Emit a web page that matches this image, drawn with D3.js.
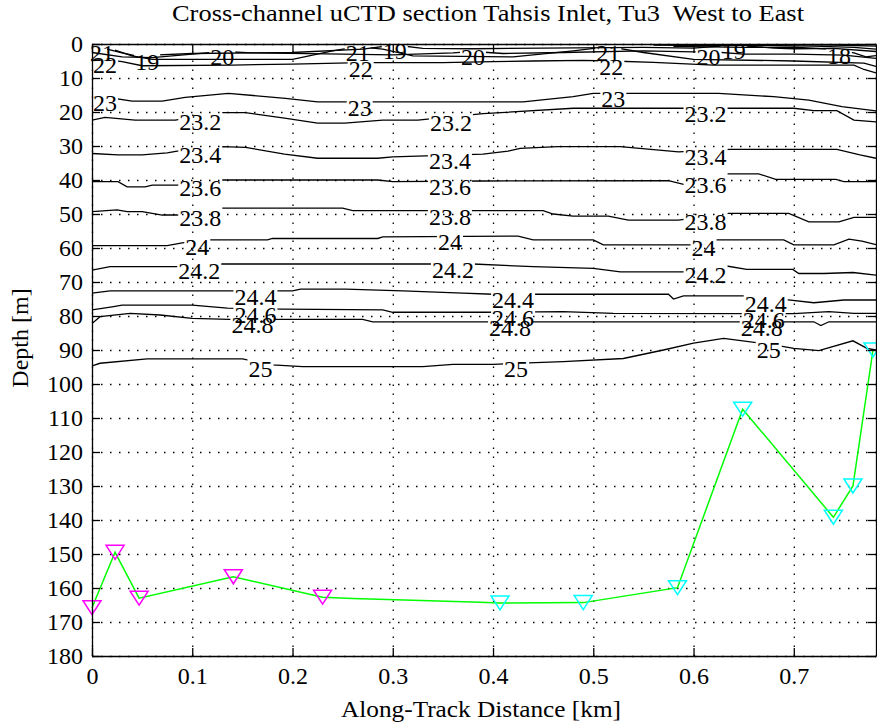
<!DOCTYPE html>
<html>
<head>
<meta charset="utf-8">
<script src="https://cdn.jsdelivr.net/npm/d3@7"></script>
<style>
  body { margin: 0; background: #fff; }
  svg text { font-family: "Liberation Serif", "Times New Roman", serif; fill: #000; }
</style>
</head>
<body>
<div id="chart"></div>
<script>
var xTicks = [0, 0.1, 0.2, 0.3, 0.4, 0.5, 0.6, 0.7];
var yTicks = [0, 10, 20, 30, 40, 50, 60, 70, 80, 90, 100, 110, 120, 130, 140, 150, 160, 170, 180];

// isopycnals: [along-track km, depth m]
var iso16 = [[0.66, 0.15], [0.70, 0.2], [0.74, 0.3], [0.782, 0.6]];
var iso17 = [[0.56, 0.3], [0.62, 0.5], [0.66, 0.4], [0.72, 0.6], [0.76, 1.0], [0.782, 1.5]];
var iso18 = [[0.58, 0.7], [0.65, 1.0], [0.70, 0.9], [0.74, 1.6], [0.76, 2.6], [0.772, 3.8], [0.782, 3.4]];
var iso19 = [[0.015, 1.5], [0.03, 2.6], [0.045, 3.6], [0.06, 3.3], [0.1, 2.8], [0.2, 2.5], [0.27, 1.5], [0.302, 0.3], [0.33, 1.3], [0.38, 1.4], [0.45, 1.2], [0.55, 1.0], [0.6, 1.2], [0.64, 0.3], [0.68, 1.2], [0.7, 1.4], [0.74, 1.3], [0.782, 2.2]];
var iso20 = [[0, 2.5], [0.03, 3.8], [0.06, 4.0], [0.1, 3.0], [0.13, 2.2], [0.16, 2.6], [0.25, 3.0], [0.3, 3.2], [0.36, 2.6], [0.38, 2.2], [0.41, 2.8], [0.47, 2.5], [0.55, 2.0], [0.6, 2.3], [0.615, 2.2], [0.65, 3.0], [0.7, 3.0], [0.75, 3.3], [0.782, 4.2]];
var iso21 = [[0, 0.5], [0.02, 1.5], [0.04, 3.5], [0.06, 4.5], [0.2, 4.5], [0.24, 2.0], [0.265, 0.8], [0.29, 1.5], [0.32, 3.5], [0.42, 3.8], [0.48, 2.0], [0.515, 0.8], [0.55, 2.5], [0.6, 4.5], [0.7, 5.0], [0.77, 5.6], [0.782, 6.6]];
var iso22 = [[0, 5.0], [0.013, 4.5], [0.03, 5.2], [0.05, 6.4], [0.14, 6.2], [0.2, 5.9], [0.268, 5.5], [0.35, 5.5], [0.4, 5.2], [0.44, 5.0], [0.49, 4.8], [0.518, 5.0], [0.56, 5.4], [0.62, 6.2], [0.76, 6.2], [0.77, 7.5], [0.782, 8.5]];
var iso23 = [[0, 15], [0.04, 16.8], [0.07, 16.8], [0.093, 15.7], [0.136, 14.5], [0.193, 16], [0.225, 17], [0.43, 17], [0.48, 15.5], [0.5, 14.5], [0.625, 14.5], [0.68, 15.5], [0.715, 16.5], [0.748, 18.4], [0.782, 19.7]];
var iso232 = [[0, 22.4], [0.013, 21.6], [0.043, 22.4], [0.083, 22.4], [0.13, 20.2], [0.153, 20.2], [0.192, 21.8], [0.225, 23.3], [0.252, 23.3], [0.29, 22.4], [0.325, 22.4], [0.39, 20.5], [0.48, 18.9], [0.7, 18.9], [0.72, 19.6], [0.743, 19.6], [0.76, 22.4], [0.782, 22.9]];
var iso234 = [[0, 32.2], [0.026, 32.6], [0.05, 32.6], [0.075, 32], [0.085, 31.5], [0.13, 30.2], [0.153, 30.4], [0.192, 32.4], [0.225, 33.6], [0.285, 33.6], [0.3, 33.2], [0.39, 32.4], [0.415, 31.5], [0.427, 30.7], [0.464, 30.2], [0.527, 30.2], [0.585, 31.7], [0.6, 31.5], [0.636, 31], [0.743, 31], [0.766, 32.6], [0.782, 33.6]];
var iso236 = [[0, 40.5], [0.026, 40.5], [0.035, 42], [0.053, 42], [0.06, 41.5], [0.085, 41.5], [0.13, 40], [0.285, 40], [0.3, 40.5], [0.39, 40.3], [0.575, 40.2], [0.59, 41.3], [0.63, 38.2], [0.665, 38.2], [0.682, 39.8], [0.742, 39.8], [0.75, 40.5], [0.782, 40.5]];
var iso238 = [[0, 49.3], [0.025, 48.8], [0.035, 49.3], [0.05, 49.3], [0.07, 50.3], [0.085, 50.3], [0.13, 48.3], [0.25, 48.3], [0.26, 49], [0.45, 49], [0.46, 50], [0.48, 50.6], [0.515, 50.6], [0.535, 51.8], [0.585, 51.8], [0.635, 49.8], [0.695, 49.8], [0.715, 52.3], [0.745, 52.3], [0.76, 51], [0.782, 51]];
var iso24 = [[0, 59.3], [0.075, 59.3], [0.09, 58.5], [0.116, 57.6], [0.175, 57.6], [0.18, 57.2], [0.285, 57.2], [0.29, 56.7], [0.425, 56.5], [0.44, 57.6], [0.5, 57.6], [0.51, 59.1], [0.6, 59.1], [0.62, 57.6], [0.69, 57.6], [0.7, 59.1], [0.74, 59.1], [0.755, 57.4], [0.768, 58], [0.782, 59]];
var iso242 = [[0, 66.5], [0.018, 65.5], [0.085, 65.5], [0.13, 64.7], [0.38, 64.7], [0.44, 65.5], [0.5, 66], [0.527, 67], [0.59, 67], [0.633, 65.3], [0.653, 66.3], [0.699, 66.3], [0.705, 67.5], [0.73, 67.5], [0.759, 67.2], [0.782, 68]];
var iso244 = [[0, 73.3], [0.018, 72.6], [0.2, 72.6], [0.208, 72.1], [0.253, 72.1], [0.31, 72.6], [0.37, 73.3], [0.4, 73.6], [0.575, 73.6], [0.58, 75], [0.59, 74.1], [0.65, 74.1], [0.69, 75.1], [0.72, 76.1], [0.75, 75.3], [0.782, 75.3]];
var iso246 = [[0, 78.2], [0.02, 77.3], [0.03, 76.8], [0.1, 76.8], [0.135, 77.7], [0.19, 78], [0.29, 78.2], [0.3, 78.9], [0.39, 78.9], [0.47, 78.7], [0.52, 79.2], [0.7, 79.3], [0.735, 78.7], [0.76, 79.2], [0.782, 79.2]];
var iso248 = [[0, 82.2], [0.008, 80.2], [0.038, 79.2], [0.068, 79.7], [0.1, 80.7], [0.137, 81], [0.27, 81], [0.28, 81.7], [0.72, 81.7], [0.727, 82.8], [0.735, 81.7], [0.782, 81.7]];
var iso25 = [[0, 94.7], [0.008, 93.9], [0.055, 92.6], [0.15, 92.6], [0.18, 94.4], [0.21, 94.9], [0.33, 94.9], [0.36, 94.2], [0.4, 94.2], [0.47, 93.4], [0.53, 92.5], [0.57, 90], [0.6, 88], [0.63, 86.6], [0.68, 88.5], [0.70, 89.5], [0.725, 90.2], [0.759, 87.3], [0.773, 89.5], [0.782, 90]];

// contour label spots (km)
var lab18 = [0.745];
var lab19 = [0.055, 0.302, 0.64];
var lab20 = [0.13, 0.38, 0.615];
var lab21 = [0.01, 0.265, 0.515];
var lab22 = [0.013, 0.268, 0.518];
var lab23 = [0.013, 0.267, 0.52];
var lab232 = [0.108, 0.358, 0.612];
var lab234 = [0.108, 0.357, 0.612];
var lab236 = [0.108, 0.357, 0.612];
var lab238 = [0.108, 0.357, 0.612];
var lab24 = [0.105, 0.357, 0.61];
var lab242 = [0.107, 0.36, 0.612];
var lab244 = [0.163, 0.42, 0.672];
var lab246 = [0.163, 0.42, 0.67];
var lab248 = [0.16, 0.417, 0.668];
var lab25 = [0.168, 0.423, 0.675];

// sea floor and cast positions
var bottomKm    = [0, 0.023, 0.047, 0.141, 0.23, 0.26, 0.32, 0.387, 0.407, 0.49, 0.584, 0.649, 0.7395, 0.759, 0.779];
var bottomDepth = [165.8, 149.5, 163, 156.7, 162.7, 163.1, 163.6, 164.2, 164.4, 164.3, 159.9, 107.4, 139.2, 130, 90];
var castKmA    = [0, 0.023, 0.047, 0.141, 0.23];
var castDepthA = [165.8, 149.5, 163, 156.7, 162.7];
var castKmB    = [0.407, 0.49, 0.584, 0.649, 0.7395, 0.759, 0.779];
var castDepthB = [164.4, 164.3, 159.9, 107.4, 139.2, 130, 90];

var isopycnals = [
  {level: "16", pts: iso16, at: []},
  {level: "17", pts: iso17, at: []},
  {level: "18", pts: iso18, at: lab18},
  {level: "19", pts: iso19, at: lab19},
  {level: "20", pts: iso20, at: lab20},
  {level: "21", pts: iso21, at: lab21},
  {level: "22", pts: iso22, at: lab22},
  {level: "23", pts: iso23, at: lab23},
  {level: "23.2", pts: iso232, at: lab232},
  {level: "23.4", pts: iso234, at: lab234},
  {level: "23.6", pts: iso236, at: lab236},
  {level: "23.8", pts: iso238, at: lab238},
  {level: "24", pts: iso24, at: lab24},
  {level: "24.2", pts: iso242, at: lab242},
  {level: "24.4", pts: iso244, at: lab244},
  {level: "24.6", pts: iso246, at: lab246},
  {level: "24.8", pts: iso248, at: lab248},
  {level: "25", pts: iso25, at: lab25}
];

var width = 877, height = 728;
var pLeft = 92, pRight = 876, pTop = 44, pBottom = 656;
var fontSize = 24;

var svg = d3.select("#chart").append("svg")
    .attr("width", width)
    .attr("height", height);

var x = d3.scaleLinear().domain([0, 0.782]).range([pLeft, pRight]);
var y = d3.scaleLinear().domain([0, 180]).range([pTop, pBottom]);

function depthAt(pts, km) {
  for (var i = 1; i < pts.length; i++) {
    if (km <= pts[i][0]) {
      var t = (km - pts[i-1][0]) / (pts[i][0] - pts[i-1][0]);
      return pts[i-1][1] + t * (pts[i][1] - pts[i-1][1]);
    }
  }
  return pts[pts.length-1][1];
}

var defs = svg.append("defs");
defs.append("clipPath").attr("id", "plotclip")
  .append("rect").attr("x", pLeft).attr("y", pTop)
  .attr("width", pRight - pLeft).attr("height", pBottom - pTop);

// grid
svg.append("g")
    .attr("transform", "translate(0," + pBottom + ")")
    .call(d3.axisBottom(x).tickValues(xTicks).tickSize(-(pBottom - pTop)).tickFormat(""))
    .call(function(g) { g.select(".domain").remove(); })
    .selectAll("line")
    .attr("stroke", "#000").attr("stroke-width", 1.3).attr("stroke-dasharray", "1.5,7.5");
svg.append("g")
    .attr("transform", "translate(" + pLeft + ",0)")
    .call(d3.axisLeft(y).tickValues(yTicks).tickSize(-(pRight - pLeft)).tickFormat(""))
    .call(function(g) { g.select(".domain").remove(); })
    .selectAll("line")
    .attr("stroke", "#000").attr("stroke-width", 1.3).attr("stroke-dasharray", "1.5,7.5");

// contours
var line = d3.line()
    .x(function(d) { return x(d[0]); })
    .y(function(d) { return y(d[1]); });

var contourG = svg.append("g").attr("clip-path", "url(#plotclip)");
var labelG = svg.append("g");

isopycnals.forEach(function(c, i) {
  var mask = defs.append("mask").attr("id", "m" + i)
      .attr("maskUnits", "userSpaceOnUse")
      .attr("x", 0).attr("y", 0).attr("width", width).attr("height", height);
  mask.append("rect").attr("width", width).attr("height", height).attr("fill", "white");

  contourG.append("path")
      .datum(c.pts)
      .attr("d", line)
      .attr("fill", "none")
      .attr("stroke", "#000")
      .attr("stroke-width", 1.3)
      .attr("mask", "url(#m" + i + ")");

  c.at.forEach(function(km) {
    var t = labelG.append("text")
        .attr("x", x(km))
        .attr("y", y(depthAt(c.pts, km)) + 6)
        .attr("text-anchor", "middle")
        .attr("dominant-baseline", "central")
        .attr("font-size", fontSize)
        .text(c.level);
    var b = t.node().getBBox();
    mask.append("rect")
        .attr("x", b.x - 1).attr("y", b.y - 4)
        .attr("width", b.width + 2).attr("height", b.height + 4)
        .attr("fill", "black");
  });
});

// sea floor
svg.append("path")
    .datum(bottomKm.map(function(k, i) { return [k, bottomDepth[i]]; }))
    .attr("d", line)
    .attr("fill", "none")
    .attr("stroke", "#00ff00")
    .attr("stroke-width", 1.5);

var tri = "M-9,-7L9,-7L0,7Z";
svg.selectAll(".castA")
    .data(castKmA)
    .enter().append("path")
    .attr("class", "castA")
    .attr("d", tri)
    .attr("transform", function(d, i) { return "translate(" + x(d) + "," + y(castDepthA[i]) + ")"; })
    .attr("fill", "none").attr("stroke", "#ff00ff").attr("stroke-width", 1.5);
svg.selectAll(".castB")
    .data(castKmB)
    .enter().append("path")
    .attr("class", "castB")
    .attr("d", tri)
    .attr("transform", function(d, i) { return "translate(" + x(d) + "," + y(castDepthB[i]) + ")"; })
    .attr("fill", "none").attr("stroke", "#00ffff").attr("stroke-width", 1.5);

// axes box with inward ticks
function styleAxis(g) {
  g.attr("font-family", null).attr("font-size", fontSize);
  g.selectAll("line").attr("stroke", "#000").attr("stroke-width", 1.3);
  g.select(".domain").attr("stroke", "#000").attr("stroke-width", 1.3);
}
svg.append("g")
    .attr("transform", "translate(0," + pBottom + ")")
    .call(d3.axisBottom(x).tickValues(xTicks).tickSize(-8).tickSizeOuter(0).tickPadding(11)
      .tickFormat(function(d) { return d === 0 ? "0" : d3.format(".1f")(d); }))
    .call(styleAxis);
svg.append("g")
    .attr("transform", "translate(0," + pTop + ")")
    .call(d3.axisTop(x).tickValues(xTicks).tickSize(-8).tickSizeOuter(0).tickFormat(""))
    .call(styleAxis);
svg.append("g")
    .attr("transform", "translate(" + pLeft + ",0)")
    .call(d3.axisLeft(y).tickValues(yTicks).tickSize(-8).tickSizeOuter(0).tickPadding(9))
    .call(styleAxis);
svg.append("g")
    .attr("transform", "translate(" + pRight + ",0)")
    .call(d3.axisRight(y).tickValues(yTicks).tickSize(-8).tickSizeOuter(0).tickFormat(""))
    .call(styleAxis);

// titles
svg.append("text")
    .attr("x", 488).attr("y", 21)
    .attr("text-anchor", "middle")
    .attr("font-size", fontSize)
    .attr("textLength", 632)
    .attr("lengthAdjust", "spacingAndGlyphs")
    .style("white-space", "pre")
    .text("Cross-channel uCTD section Tahsis Inlet, Tu3  West to East");
svg.append("text")
    .attr("x", 481).attr("y", 717)
    .attr("text-anchor", "middle")
    .attr("font-size", fontSize)
    .attr("textLength", 280)
    .attr("lengthAdjust", "spacingAndGlyphs")
    .text("Along-Track Distance [km]");
svg.append("text")
    .attr("transform", "translate(28,338) rotate(-90)")
    .attr("text-anchor", "middle")
    .attr("font-size", fontSize)
    .text("Depth [m]");
</script>
</body>
</html>
